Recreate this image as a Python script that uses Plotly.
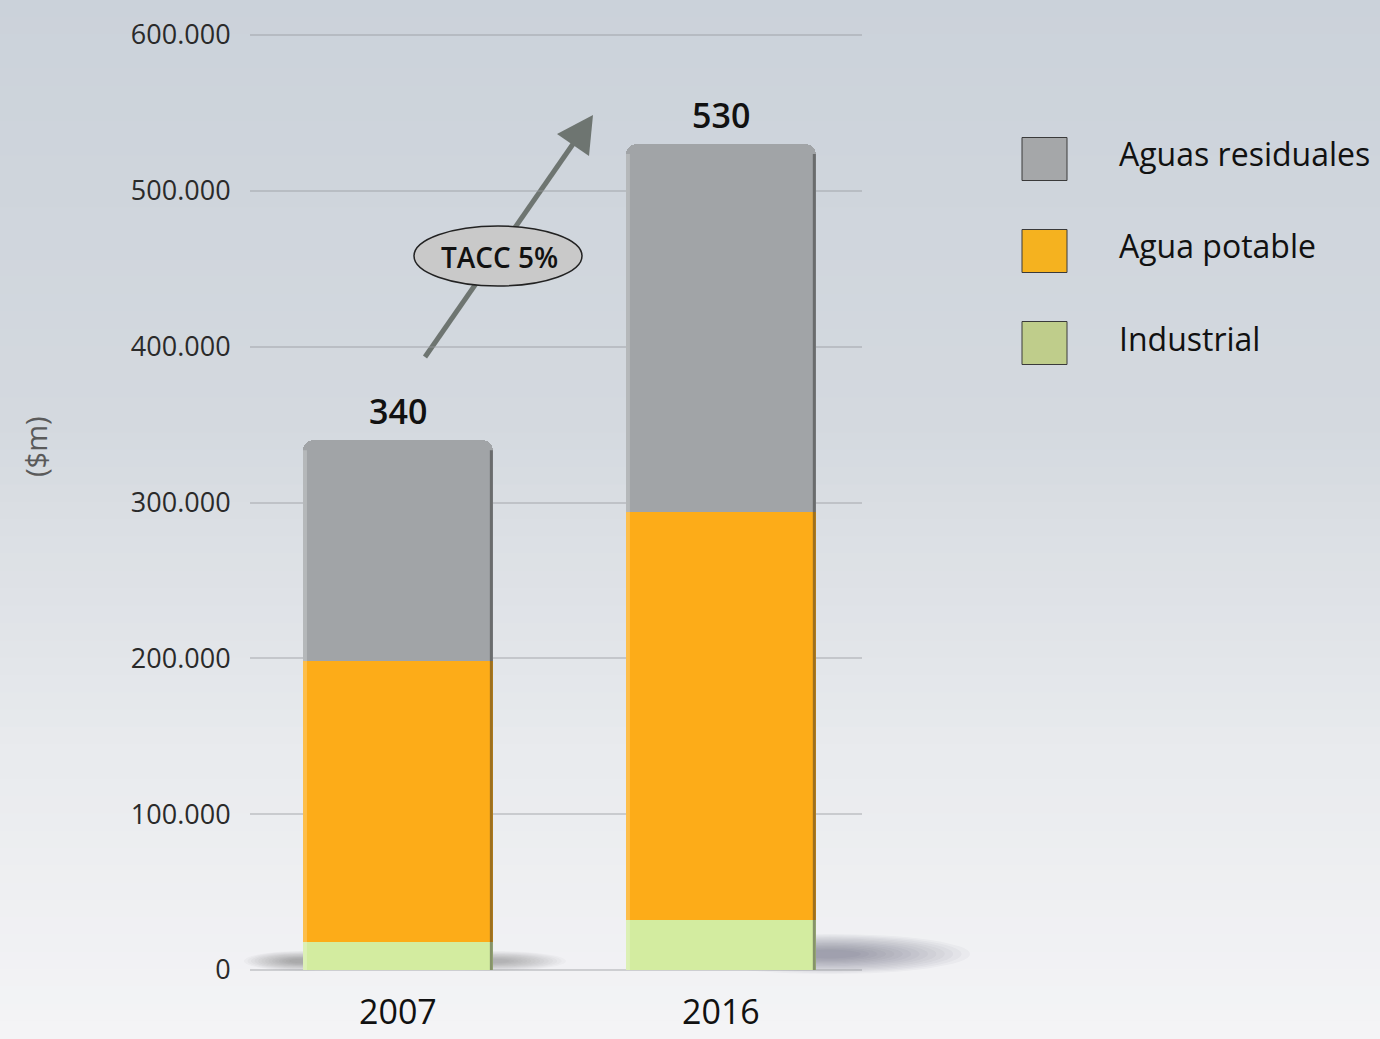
import plotly.graph_objects as go

# Inversión en agua por segmento (en $m)
years = ["2007", "2016"]
industrial = [18000, 32000]
agua_potable = [180000, 262000]
aguas_residuales = [142000, 236000]

series_names = ["Industrial", "Agua potable", "Aguas residuales"]
bar_colors = ["#d3eca0", "#fdac18", "#a1a4a7"]
swatch_colors = ["#bfcd8b", "#f5b21f", "#a5a7a9"]

y_ticks = [0, 100000, 200000, 300000, 400000, 500000, 600000]
growth_label = "TACC 5%"
axis_title = "($m)"

FONT = "Open Sans"
W, H = 1380, 1039
M_L, M_R, M_T, M_B = 250, 518, 10, 50
PW, PH = W - M_L - M_R, H - M_T - M_B
BAR_W = 0.588
X_RANGE = [-0.458, 1.437]
CORNER = 10


def px_x(px):
    """Screen x (px) to paper coordinate."""
    return (px - M_L) / PW


def px_y(py):
    """Screen y (px) to paper coordinate."""
    return (H - M_B - py) / PH


fig = go.Figure()
for name, vals, col in zip(series_names, [industrial, agua_potable, aguas_residuales], bar_colors):
    fig.add_trace(go.Bar(
        x=years, y=vals, name=name, width=BAR_W,
        marker=dict(color=col, line=dict(width=0)),
        showlegend=False,
    ))

totals = [a + b + c for a, b, c in zip(industrial, agua_potable, aguas_residuales)]

px_per_unit = (970 - 35) / 600000
y_lo = -(M_T + PH - 970) / px_per_unit
y_hi = 600000 + (35 - M_T) / px_per_unit
x_per_px = (X_RANGE[1] - X_RANGE[0]) / PW

shapes = []

# soft vertical gradient for the page background
stops = [(0, (203, 210, 218)), (420, (212, 217, 223)), (760, (233, 235, 238)), (1039, (244, 244, 246))]
n_bands = 60
for i in range(n_bands):
    y0 = H * i / n_bands
    y1 = H * (i + 1) / n_bands
    ym = (y0 + y1) / 2
    for (a, ca), (b, cb) in zip(stops[:-1], stops[1:]):
        if a <= ym <= b:
            t = (ym - a) / (b - a)
            c = tuple(round(ca[k] + (cb[k] - ca[k]) * t) for k in range(3))
            break
    shapes.append(dict(
        type="rect", xref="paper", yref="paper", layer="below",
        x0=px_x(0), x1=px_x(W), y0=px_y(y1 + 0.5), y1=px_y(y0 - 0.5),
        fillcolor=f"rgb{c}", line=dict(width=0),
    ))


def soft_shadow(cx, cy, rx, ry, steps=14, alpha=0.03):
    """Stack shrinking translucent ellipses (pixel units) to fake a blurred shadow."""
    out = []
    for s in range(steps):
        k = 1.0 - 0.06 * s
        out.append(dict(type="circle", xref="paper", yref="paper", layer="between",
                        x0=px_x(cx - rx * k), x1=px_x(cx + rx * k),
                        y0=px_y(cy + ry * k), y1=px_y(cy - ry * k),
                        fillcolor=f"rgba(40,42,48,{alpha})", line=dict(width=0)))
    return out


# floor shadows cast by the bars (the bars hide their inner half)
shapes += soft_shadow(830, 954, 140, 20)
shapes += soft_shadow(494, 961, 72, 10, alpha=0.024)
shapes += soft_shadow(302, 961, 58, 10, alpha=0.028)

# rounded-bar edge shading: light rim on the left, dark rim on the right
rim = 4 * x_per_px
top_cut = CORNER / px_per_unit
for i, tot in enumerate(totals):
    left = i - BAR_W / 2
    right = i + BAR_W / 2
    shapes.append(dict(type="rect", xref="x", yref="y", layer="above",
                       x0=left, x1=left + rim, y0=0, y1=tot - top_cut,
                       fillcolor="rgba(255,255,255,0.22)", line=dict(width=0)))
    shapes.append(dict(type="rect", xref="x", yref="y", layer="above",
                       x0=right - rim * 0.75, x1=right, y0=0, y1=tot - top_cut,
                       fillcolor="rgba(40,40,40,0.45)", line=dict(width=0)))

# growth arrow: shaft and head, kept beneath the oval label
tail = (425, 357)
tip = (593, 115)
base_mid = (573, 144)
corner_a = (557, 134)
corner_b = (589, 156)
shapes.append(dict(
    type="line", xref="paper", yref="paper", layer="between",
    x0=px_x(tail[0]), y0=px_y(tail[1]), x1=px_x(base_mid[0]), y1=px_y(base_mid[1]),
    line=dict(color="#6e7571", width=5),
))
shapes.append(dict(
    type="path", xref="paper", yref="paper", layer="between",
    path=(f"M {px_x(tip[0])} {px_y(tip[1])} L {px_x(corner_a[0])} {px_y(corner_a[1])} "
          f"L {px_x(corner_b[0])} {px_y(corner_b[1])} Z"),
    fillcolor="#6e7571", line=dict(width=0),
))

# oval behind the growth label
shapes.append(dict(
    type="circle", xref="paper", yref="paper", layer="above",
    x0=px_x(414), x1=px_x(582), y0=px_y(286), y1=px_y(226),
    fillcolor="#c9c9c9", line=dict(color="#222222", width=1.5),
))

annotations = []
annotations.append(dict(
    xref="paper", yref="paper", x=px_x(499), y=px_y(257),
    xanchor="center", yanchor="middle",
    text=growth_label, showarrow=False,
    font=dict(family=FONT, size=28, color="#111111", weight=600),
))

# totals above each bar
for i, tot in enumerate(totals):
    annotations.append(dict(
        x=i, y=tot, xref="x", yref="y", xanchor="center", yanchor="bottom", yshift=4,
        text=f"{tot // 1000}", showarrow=False,
        font=dict(family=FONT, size=34, color="#111111", weight=600),
    ))

# axis unit label
annotations.append(dict(
    xref="paper", yref="paper", x=px_x(35), y=px_y(447),
    xanchor="center", yanchor="middle",
    text=axis_title, textangle=-90, showarrow=False,
    font=dict(family=FONT, size=29, color="#5a5a5a"),
))

# legend built from swatches and labels
legend_rows = [(159, "Aguas residuales", swatch_colors[2]),
               (251, "Agua potable", swatch_colors[1]),
               (343, "Industrial", swatch_colors[0])]
for cy, label, col in legend_rows:
    shapes.append(dict(
        type="rect", xref="paper", yref="paper", layer="above",
        x0=px_x(1022), x1=px_x(1067), y0=px_y(cy + 21.5), y1=px_y(cy - 21.5),
        fillcolor=col, line=dict(color="#3a3a3a", width=1),
    ))
    annotations.append(dict(
        xref="paper", yref="paper", x=px_x(1117), y=px_y(cy - 5),
        xanchor="left", yanchor="middle", text=label, showarrow=False,
        font=dict(family=FONT, size=32, color="#111111"),
    ))

fig.update_layout(
    width=W, height=H,
    margin=dict(l=M_L, r=M_R, t=M_T, b=M_B, autoexpand=False),
    barmode="stack",
    barcornerradius=CORNER,
    separators=",.",
    paper_bgcolor="#dfe2e6",
    plot_bgcolor="rgba(0,0,0,0)",
    shapes=shapes,
    annotations=annotations,
    font=dict(family=FONT, color="#222222"),
    xaxis=dict(
        type="category", automargin=False,
        range=X_RANGE, showgrid=False, zeroline=False, showline=False,
        ticks="", tickfont=dict(family=FONT, size=34, color="#111111"),
    ),
    yaxis=dict(
        automargin=False,
        range=[y_lo, y_hi], tickvals=y_ticks, tickformat=",d",
        showgrid=True, gridcolor="rgba(150,153,157,0.4)", gridwidth=1.5,
        zeroline=False, showline=False,
        ticks="outside", ticklen=13, tickcolor="rgba(0,0,0,0)",
        tickfont=dict(family=FONT, size=27, color="#2a2a2a"),
    ),
)

fig.write_html("out.html")
